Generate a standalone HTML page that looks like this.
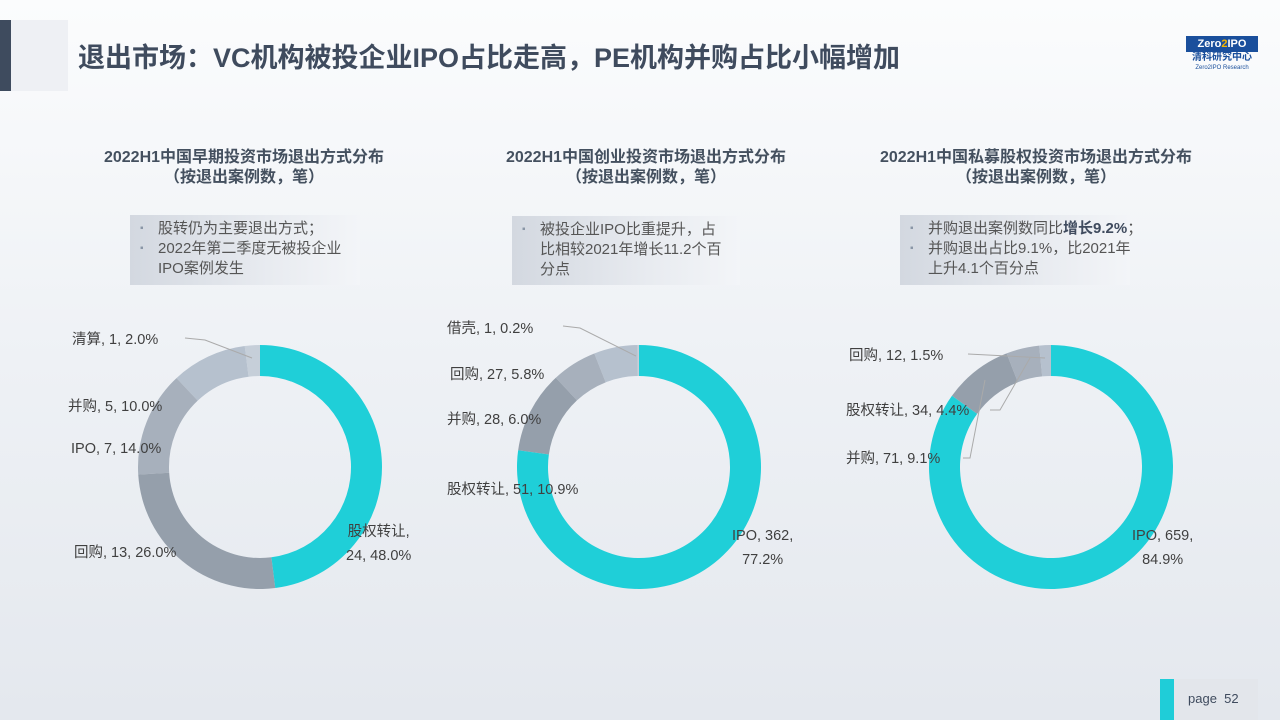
<!DOCTYPE html>
<html><head><meta charset="utf-8">
<style>
body{margin:0;width:1280px;height:720px;overflow:hidden;font-family:"Liberation Sans","Noto Sans CJK SC",sans-serif;background:linear-gradient(#fbfcfd 0%,#eef1f5 50%,#e4e8ee 100%);position:relative;color:#404040}
.abs{position:absolute}
.ct{position:absolute;width:380px;text-align:center;font-weight:bold;font-size:16px;color:#44505f;line-height:20px}
.box{position:absolute;background:linear-gradient(90deg,#d3d8e0,#e8ebf0 60%,#f3f5f8);font-size:15px;color:#555;line-height:20px;padding:4px 4px 4px 28px;box-sizing:border-box;white-space:nowrap}
.box div{position:relative}
.box div.b:before{content:"▪";position:absolute;left:-18px;color:#8a96a6;font-size:10px}
.lbl{position:absolute;font-size:14.5px;color:#404040;white-space:nowrap;line-height:22px}
</style></head><body>
<div class="abs" style="left:0;top:20px;width:11px;height:71px;background:#3e4b5e"></div>
<div class="abs" style="left:11px;top:20px;width:57px;height:71px;background:#eef0f4"></div>
<div class="abs" style="left:78px;top:36px;font-size:27px;font-weight:bold;color:#3f4b5e">退出市场：VC机构被投企业IPO占比走高，PE机构并购占比小幅增加</div>
<div class="abs" style="left:1186px;top:36px;width:72px;text-align:center">
 <div style="background:#1a4f9c;color:#fff;font-size:11px;font-weight:bold;line-height:14px;border:1px solid #1a4f9c">Zero<span style="color:#f5b400">2</span>IPO</div>
 <div style="color:#1a4f9c;font-size:10px;font-weight:bold;line-height:12px">清科研究中心</div>
 <div style="color:#1a4f9c;font-size:6px;line-height:8px">Zero2IPO Research</div>
</div>

<div class="ct" style="left:54px;top:148px">2022H1中国早期投资市场退出方式分布<br>（按退出案例数，笔）</div>
<div class="ct" style="left:456px;top:148px">2022H1中国创业投资市场退出方式分布<br>（按退出案例数，笔）</div>
<div class="ct" style="left:846px;top:148px">2022H1中国私募股权投资市场退出方式分布<br>（按退出案例数，笔）</div>

<div class="box" style="left:130px;top:215px;width:230px;height:70px"><div class="b">股转仍为主要退出方式；</div><div class="b">2022年第二季度无被投企业<br>IPO案例发生</div></div>
<div class="box" style="left:512px;top:216px;width:228px;height:69px"><div class="b">被投企业IPO比重提升，占<br>比相较2021年增长11.2个百<br>分点</div></div>
<div class="box" style="left:900px;top:215px;width:230px;height:70px"><div class="b">并购退出案例数同比<b style="color:#3f4b5e">增长9.2%</b>；</div><div class="b">并购退出占比9.1%，比2021年<br>上升4.1个百分点</div></div>

<svg id="chart" class="abs" style="left:0;top:0" width="1280" height="720">
 <g stroke="#aaa" stroke-width="1" fill="none">
  <polyline points="185,338 205,340 252,358"/>
  <polyline points="563,326 580,328 636,356"/>
  <polyline points="968,354 1045,358"/>
  <polyline points="990,410 1000,410 1030,358"/>
  <polyline points="963,458 970,458 985,380"/>
 </g>
</svg>

<div class="lbl" style="left:72px;top:329px">清算, 1, 2.0%</div>
<div class="lbl" style="left:68px;top:396px">并购, 5, 10.0%</div>
<div class="lbl" style="left:71px;top:438px">IPO, 7, 14.0%</div>
<div class="lbl" style="left:74px;top:542px">回购, 13, 26.0%</div>
<div class="lbl" style="left:346px;top:520px;text-align:center;line-height:24px">股权转让,<br>24, 48.0%</div>

<div class="lbl" style="left:447px;top:318px">借壳, 1, 0.2%</div>
<div class="lbl" style="left:450px;top:364px">回购, 27, 5.8%</div>
<div class="lbl" style="left:447px;top:409px">并购, 28, 6.0%</div>
<div class="lbl" style="left:447px;top:479px">股权转让, 51, 10.9%</div>
<div class="lbl" style="left:732px;top:524px;text-align:center;line-height:24px">IPO, 362,<br>77.2%</div>

<div class="lbl" style="left:849px;top:345px">回购, 12, 1.5%</div>
<div class="lbl" style="left:846px;top:400px">股权转让, 34, 4.4%</div>
<div class="lbl" style="left:846px;top:448px">并购, 71, 9.1%</div>
<div class="lbl" style="left:1132px;top:524px;text-align:center;line-height:24px">IPO, 659,<br>84.9%</div>

<div class="abs" style="left:1160px;top:679px;width:14px;height:41px;background:#1fcdd8"></div>
<div class="abs" style="left:1174px;top:679px;width:84px;height:41px;background:#e3e6eb;font-size:13px;line-height:40px;color:#3f4b5e;text-indent:14px">page&nbsp; 52</div>

<script>
const c1Cats=["股权转让","回购","IPO","并购","清算"];
const c1Vals=[24,13,7,5,1];
const c2Cats=["IPO","股权转让","并购","回购","借壳"];
const c2Vals=[362,51,28,27,1];
const c3Cats=["IPO","并购","股权转让","回购"];
const c3Vals=[659,71,34,12];
const colors=["#1fcfd8","#959fab","#a7b0bc","#b6c1ce","#c6cfd9"];
const colors3=["#1fcfd8","#959fab","#a7b0bc","#b6c1ce"];
const svg=document.getElementById('chart');
const NS="http://www.w3.org/2000/svg";
function donut(cx,cy,R,r,vals,cols){
  const tot=vals.reduce((a,b)=>a+b,0);
  let a0=-Math.PI/2;
  vals.forEach((v,i)=>{
    const a1=a0+v/tot*2*Math.PI;
    const big=(a1-a0)>Math.PI?1:0;
    const p=(rad,a)=>[cx+rad*Math.cos(a),cy+rad*Math.sin(a)];
    const [x1,y1]=p(R,a0),[x2,y2]=p(R,a1),[x3,y3]=p(r,a1),[x4,y4]=p(r,a0);
    const path=document.createElementNS(NS,'path');
    path.setAttribute('d',`M${x1},${y1}A${R},${R} 0 ${big} 1 ${x2},${y2}L${x3},${y3}A${r},${r} 0 ${big} 0 ${x4},${y4}Z`);
    path.setAttribute('fill',cols[i%cols.length]);
    
    
    svg.insertBefore(path,svg.firstChild);
    a0=a1;
  });
}
donut(260,467,122,91,c1Vals,colors);
donut(639,467,122,91,c2Vals,colors);
donut(1051,467,122,91,c3Vals,colors3);
</script>
</body></html>
